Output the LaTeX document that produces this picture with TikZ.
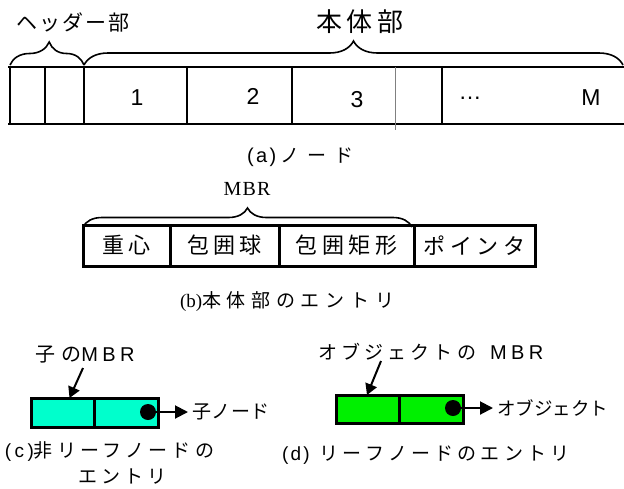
\documentclass[tikz,border=0pt]{standalone}
\usepackage{fontspec}
\setmainfont{Liberation Sans}
\newfontfamily\jp{Noto Sans CJK JP}
\newfontfamily\serifj{Liberation Serif}
\usetikzlibrary{decorations.pathreplacing,arrows.meta}
\definecolor{aquabox}{RGB}{0,255,204}
\definecolor{greenbox}{RGB}{0,240,0}
\newcommand\fs[1]{\fontsize{#1}{#1}\selectfont}
\newcommand\ls[1]{\addfontfeature{LetterSpace=#1}}
\begin{document}
\begin{tikzpicture}[x=1pt,y=-1pt,
  every node/.style={inner sep=0pt,outer sep=0pt},
  bracestyle/.style={line width=1.6pt,decorate,decoration={brace,amplitude=#1}},
  cellb/.style={draw,line width=3pt,minimum height=41pt,anchor=west,font=\jp\fs{22}\ls{20}},
  cellc/.style={draw,line width=3pt,minimum height=29pt,anchor=west,fill=aquabox},
  celld/.style={draw,line width=3pt,minimum height=28pt,anchor=west,fill=greenbox},
  dotc/.style={circle,fill=black,minimum size=16pt},
  ptr/.style={line width=2pt,-{Triangle[length=13pt,width=13pt]}},
  lbl/.style={line width=2pt,-{Triangle[length=11pt,width=12pt]}},
  digit/.style={font=\fs{23}}
]
\useasboundingbox (0,0) rectangle (624,488);

% ---------- (a) node ----------
\node[font=\jp\fs{21}\ls{10}] (hlabel) at (73,22) {ヘッダー部};
\node[font=\jp\fs{26}\ls{16}] (blabel) at (360,22) {本体部};

\coordinate (tl) at (8,67);
\coordinate (tr) at (624,67);
\coordinate (bl) at (8,124);
\coordinate (br) at (624,124);
\draw[line width=2.5pt] (tl) -- (tr);
\draw[line width=2.5pt] (bl) -- (br);
\foreach \x in {10,45,84,187,292,442} \draw[line width=2pt] (\x,67) -- (\x,124);
\draw[gray,line width=1pt] (395,67) -- (395,130);

\draw[bracestyle=23pt,decoration={aspect=0.53}] (10,65) -- (84,65);
\draw[bracestyle=24pt,decoration={aspect=0.5}] (84,65) -- (623,65);

\node[digit] (n1) at (137,98) {1};
\node[digit] (n2) at (253,96.5) {2};
\node[digit] (n3) at (357,100) {3};
\node[digit] (n4) at (470,98) {\ldots};
\node[digit] (nM) at (591,98) {M};

\node[anchor=west] (capa) at (247,157) {{\fs{20}\ls{12}(a)}\hspace{4pt}{\jp\fs{19}\ls{42}ノード}};

% ---------- (b) entry ----------
\node[font=\serifj\fs{20}\ls{6}] (mbr) at (247,189) {MBR};
\draw[bracestyle=19pt,decoration={aspect=0.5}] (83,227) -- (412,227);

\node[cellb,minimum width=87pt] (g) at (83,245.5) {重心};
\node[cellb,minimum width=109pt] (s) at (170,245.5) {包囲球};
\node[cellb,minimum width=135pt] (r) at (279,245.5) {包囲矩形};
\node[cellb,minimum width=121pt] (p) at (414,245.5) {ポインタ};

\node[anchor=west] (capb) at (180,302) {{\serifj\fs{19}(b)}{\jp\fs{19}\ls{30}本体部のエントリ}};

% ---------- (c) non-leaf entry ----------
\node[anchor=west] (cmbr) at (35,355) {{\jp\fs{20}\ls{32}子の}{\fs{20}\ls{22}MBR}};
\node[cellc,minimum width=63pt] (c1) at (31,412.5) {};
\node[cellc,minimum width=64pt] (c2) at (94,412.5) {};
\node[dotc] (cdot) at (148,412) {};
\node[anchor=west,font=\jp\fs{19}\ls{3}] (cchild) at (192,412) {子ノード};
\draw[ptr] (cdot.center) -- ([xshift=-4pt]cchild.west);
\draw[lbl] (83,368) -- ([xshift=7pt]c1.north);

\node[anchor=west] (capc1) at (5,452) {{\fs{19}\ls{18}(c)}{\jp\fs{19}\ls{22}非リーフノードの}};
\node[anchor=west,font=\jp\fs{19}\ls{22}] (capc2) at (78,477) {エントリ};

% ---------- (d) leaf entry ----------
\node[anchor=west] (dmbr) at (318,352) {{\jp\fs{19}\ls{22}オブジェクトの}\hspace{14pt}{\fs{20}\ls{22}MBR}};
\node[celld,minimum width=63pt] (d1) at (336,409) {};
\node[celld,minimum width=64pt] (d2) at (399,409) {};
\node[dotc] (ddot) at (453,408) {};
\node[anchor=west,font=\jp\fs{18.5}] (dobj) at (497,408) {オブジェクト};
\draw[ptr] (ddot.center) -- ([xshift=-4pt]dobj.west);
\draw[lbl] (381,361) -- (d1.north -| 367,0);

\node[anchor=west] (capd) at (282,455) {{\fs{19}\ls{12}(d)}\hspace{10pt}{\jp\fs{19}\ls{22}リーフノードのエントリ}};
\end{tikzpicture}
\end{document}
